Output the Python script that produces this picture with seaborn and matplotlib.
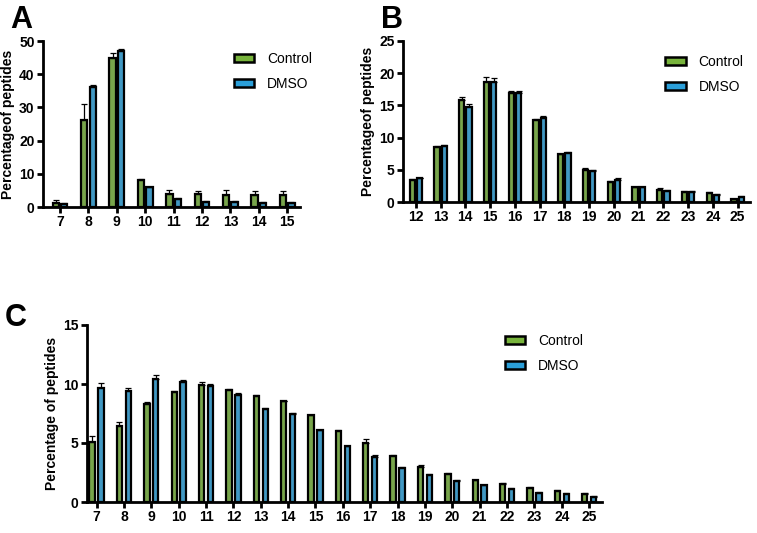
import numpy as np
import matplotlib.pyplot as plt
import seaborn as sns
import pandas as pd
from matplotlib.patches import Patch

# peptide length distributions
len_a = [7, 8, 9, 10, 11, 12, 13, 14, 15]
ctrl_a = [1.2, 26.2, 45.0, 8.0, 4.0, 3.9, 3.7, 3.5, 3.6]
ctrl_a_err = [1.0, 4.8, 1.5, 0.3, 1.0, 0.8, 1.5, 1.4, 1.1]
dmso_a = [1.0, 36.0, 47.0, 5.9, 2.3, 1.6, 1.4, 1.3, 1.1]
dmso_a_err = [0.2, 0.8, 0.5, 0.2, 0.3, 0.3, 0.3, 0.2, 0.4]

len_b = list(range(12, 26))
ctrl_b = [3.4, 8.6, 15.9, 18.7, 17.0, 12.7, 7.4, 5.0, 3.1, 2.3, 1.9, 1.6, 1.4, 0.4]
ctrl_b_err = [0.1, 0.1, 0.4, 0.7, 0.3, 0.2, 0.1, 0.3, 0.2, 0.1, 0.3, 0.1, 0.1, 0.1]
dmso_b = [3.7, 8.7, 14.8, 18.7, 17.0, 13.0, 7.6, 4.8, 3.4, 2.3, 1.7, 1.6, 1.1, 0.8]
dmso_b_err = [0.1, 0.2, 0.4, 0.5, 0.3, 0.3, 0.2, 0.2, 0.4, 0.1, 0.1, 0.1, 0.1, 0.1]

len_c = list(range(7, 26))
ctrl_c = [5.1, 6.4, 8.3, 9.3, 9.95, 9.45, 9.0, 8.55, 7.35, 6.0, 5.0, 3.9, 3.0, 2.4,
          1.84, 1.5, 1.2, 0.96, 0.7]
ctrl_c_err = [0.5, 0.4, 0.2, 0.1, 0.25, 0.1, 0.1, 0.05, 0.05, 0.1, 0.3, 0.05, 0.15, 0.1,
              0.05, 0.1, 0.05, 0.05, 0.05]
dmso_c = [9.65, 9.4, 10.4, 10.2, 9.85, 9.05, 7.85, 7.45, 6.07, 4.72, 3.8, 2.9, 2.3, 1.78,
          1.4, 1.1, 0.8, 0.68, 0.45]
dmso_c_err = [0.45, 0.25, 0.35, 0.15, 0.15, 0.2, 0.15, 0.1, 0.05, 0.05, 0.15, 0.05, 0.1, 0.05,
              0.05, 0.05, 0.05, 0.05, 0.05]

groups = ["Control", "DMSO"]
colors = {"Control": "#78b43c", "DMSO": "#2b9fd9"}

sns.set_style("ticks")
plt.rcParams["font.family"] = ["Liberation Sans", "DejaVu Sans"]
for k in ["text.color", "axes.labelcolor", "xtick.color", "ytick.color", "axes.edgecolor"]:
    plt.rcParams[k] = "black"

fig = plt.figure(figsize=(7.57, 5.33), dpi=100)
W, H = 757, 533


def px_axes(x0, y0, x1, y1):
    return fig.add_axes([x0 / W, 1 - y1 / H, (x1 - x0) / W, (y1 - y0) / H])


def panel(ax, lengths, ctrl, ctrl_err, dmso, dmso_err, ymax, ystep, ylabel, xlim,
          width, gap, legend_pos):
    df = pd.DataFrame({
        "length": [str(l) for l in lengths] * 2,
        "value": ctrl + dmso,
        "err": ctrl_err + dmso_err,
        "group": ["Control"] * len(lengths) + ["DMSO"] * len(lengths),
    })
    sns.barplot(data=df, x="length", y="value", hue="group", hue_order=groups,
                palette=colors, errorbar=None, width=width, gap=gap,
                edgecolor="black", linewidth=1.6, ax=ax, legend=False)
    for cont, g in zip(ax.containers, groups):
        sub = df[df.group == g]
        xs = [p.get_x() + p.get_width() / 2 for p in cont.patches]
        hs = [p.get_height() for p in cont.patches]
        ax.errorbar(xs, hs, yerr=[np.zeros(len(xs)), sub["err"].values], fmt="none",
                    ecolor="black", elinewidth=0.9, capsize=2, capthick=0.9, zorder=1)
    ax.set_ylim(0, ymax)
    ax.set_yticks(np.arange(0, ymax + 0.1, ystep))
    ax.set_xlim(*xlim)
    ax.set_xlabel("")
    ax.set_ylabel(ylabel, fontsize=10, fontweight="bold", labelpad=3)
    sns.despine(ax=ax)
    for s in ["left", "bottom"]:
        ax.spines[s].set_linewidth(2)
    ax.tick_params(width=2, length=4, labelsize=10, pad=2)
    for t in ax.get_xticklabels() + ax.get_yticklabels():
        t.set_fontweight("bold")
    handles = [Patch(facecolor=colors[g], edgecolor="black", linewidth=1.8, label=g)
               for g in groups]
    ax.legend(handles=handles, loc="upper left", bbox_to_anchor=legend_pos,
              frameon=False, fontsize=10, handlelength=1.5, handleheight=0.5,
              handletextpad=0.9, labelspacing=0.8, borderaxespad=0)


ax_a = px_axes(43, 41, 300, 207)
panel(ax_a, len_a, ctrl_a, ctrl_a_err, dmso_a, dmso_a_err, 50, 10,
      "Percentageof peptides", (-0.6, 8.45), 0.6, 0.25, (0.72, 0.97))

ax_b = px_axes(403, 41, 750, 202)
panel(ax_b, len_b, ctrl_b, ctrl_b_err, dmso_b, dmso_b_err, 25, 5,
      "Percentageof peptides", (-0.52, 13.5), 0.6, 0.3, (0.74, 0.95))

ax_c = px_axes(87, 325, 602, 502)
panel(ax_c, len_c, ctrl_c, ctrl_c_err, dmso_c, dmso_c_err, 15, 5,
      "Percentage of peptides", (-0.35, 18.47), 0.65, 0.4, (0.8, 0.98))

fig.text(10 / W, 1 - 20 / H, "A", fontsize=22, fontweight="bold", va="center")
fig.text(381 / W, 1 - 20 / H, "B", fontsize=22, fontweight="bold", va="center")
fig.text(5 / W, 1 - 318 / H, "C", fontsize=22, fontweight="bold", va="center")

fig.savefig("out.png", dpi=100)
